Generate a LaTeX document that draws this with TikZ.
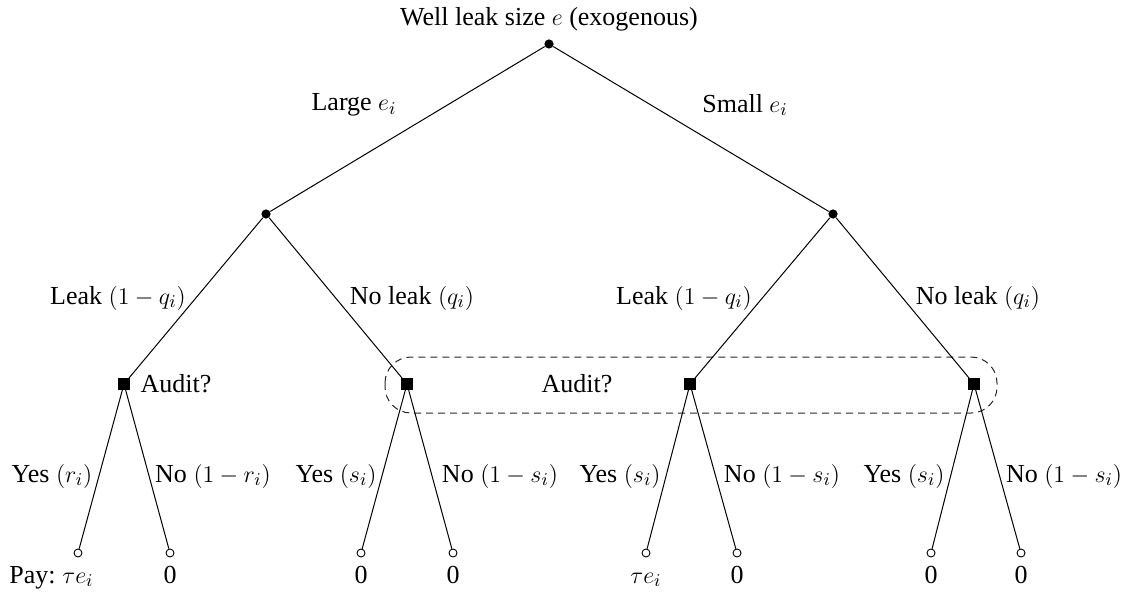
\documentclass[tikz,border=0pt]{standalone}
\usepackage{fontspec}
\setmainfont{Liberation Serif}
\begin{document}
\begin{tikzpicture}[x=0.5pt,y=-0.5pt,
  every node/.style={font=\fontsize{13}{15}\selectfont},
  chance/.style={circle,fill=black,inner sep=0pt,minimum size=4.6pt},
  decision/.style={rectangle,fill=black,inner sep=0pt,minimum size=5.6pt},
  terminal/.style={circle,draw=black,fill=white,inner sep=0pt,minimum size=4pt,line width=0.45pt},
  branch/.style={line width=0.5pt},
  infoset/.style={dash pattern=on 3.5pt off 2.5pt, rounded corners=13pt, line width=0.5pt, draw=black!85},
  lbl/.style={inner sep=0pt},
  payoff/.style={inner sep=0pt,anchor=base}]
\useasboundingbox (0,0) rectangle (1127,598);

% information set
\draw[infoset] (385,357) rectangle (997,413);

% decision nodes
\node[chance] (r) at (549,44) {};
\node[chance] (a) at (266,214) {};
\node[chance] (b) at (833,214) {};
\node[decision] (a1) at (124,384) {};
\node[decision] (a2) at (407,384) {};
\node[decision] (b1) at (690,384) {};
\node[decision] (b2) at (974,384) {};

% leaves
\node[terminal] (t1) at (78,553) {};
\node[terminal] (t2) at (170,553) {};
\node[terminal] (t3) at (361,553) {};
\node[terminal] (t4) at (453,553) {};
\node[terminal] (t5) at (646,553) {};
\node[terminal] (t6) at (737,553) {};
\node[terminal] (t7) at (931,553) {};
\node[terminal] (t8) at (1021,553) {};

% branches
\draw[branch] (r) -- (a);
\draw[branch] (r) -- (b);
\draw[branch] (a) -- (a1);
\draw[branch] (a) -- (a2);
\draw[branch] (b) -- (b1);
\draw[branch] (b) -- (b2);
\draw[branch] (a1) -- (t1);
\draw[branch] (a1) -- (t2);
\draw[branch] (a2) -- (t3);
\draw[branch] (a2) -- (t4);
\draw[branch] (b1) -- (t5);
\draw[branch] (b1) -- (t6);
\draw[branch] (b2) -- (t7);
\draw[branch] (b2) -- (t8);

% texts
\node[lbl] (title) at (549,19) {Well leak size $e$ (exogenous)};
\node[lbl] (lLarge) at (354,105) {Large $e_i$};
\node[lbl] (lSmall) at (745,105) {Small $e_i$};
\node[lbl] (lA1) at (118,298) {Leak $(1-q_i)$};
\node[lbl] (lA2) at (412,298) {No leak $(q_i)$};
\node[lbl] (lB1) at (684,298) {Leak $(1-q_i)$};
\node[lbl] (lB2) at (978,298) {No leak $(q_i)$};
\node[lbl] (aud1) at (176,384) {Audit?};
\node[lbl] (aud2) at (577,384) {Audit?};
\node[lbl] (y1) at (52,476) {Yes $(r_i)$};
\node[lbl] (n1) at (213,476) {No $(1-r_i)$};
\node[lbl] (y2) at (336,476) {Yes $(s_i)$};
\node[lbl] (n2) at (500,476) {No $(1-s_i)$};
\node[lbl] (y3) at (620,476) {Yes $(s_i)$};
\node[lbl] (n3) at (782,476) {No $(1-s_i)$};
\node[lbl] (y4) at (904,476) {Yes $(s_i)$};
\node[lbl] (n4) at (1064,476) {No $(1-s_i)$};

% payoffs
\node[payoff] (p1) at (t1 |- 0,583) {$\tau e_i$};
\node[lbl,anchor=base east] (pay) at ([xshift=-3pt]p1.base west) {Pay:};
\node[payoff] (p2) at (t2 |- 0,583) {0};
\node[payoff] (p3) at (t3 |- 0,583) {0};
\node[payoff] (p4) at (t4 |- 0,583) {0};
\node[payoff] (p5) at (t5 |- 0,583) {$\tau e_i$};
\node[payoff] (p6) at (t6 |- 0,583) {0};
\node[payoff] (p7) at (t7 |- 0,583) {0};
\node[payoff] (p8) at (t8 |- 0,583) {0};
\end{tikzpicture}
\end{document}
